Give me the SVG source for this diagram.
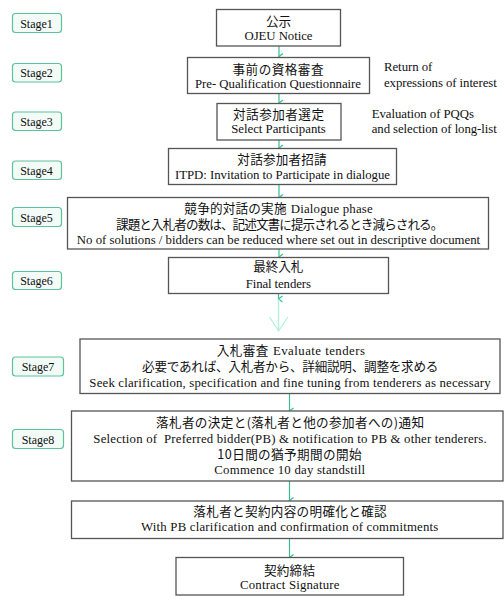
<svg xmlns="http://www.w3.org/2000/svg" width="504" height="596" viewBox="0 0 504 596">
<defs>
<style>
.box{fill:#fff;stroke:#555;stroke-width:1.3}
.stg{fill:#f2fbf7;stroke:#5cc39a;stroke-width:1.2}
.en{font-family:"Liberation Serif","Times New Roman",serif;font-size:12.8px;fill:#111}
.sl{font-family:"Liberation Serif","Times New Roman",serif;font-size:12px;fill:#111}
.jp{font-family:"Noto Sans CJK JP","Noto Sans CJK SC",sans-serif;font-size:12.6px;fill:#111}
.c{text-anchor:middle}
.con{stroke:#3cbf8f;stroke-width:1.2;fill:none}
</style>
<marker id="ah" markerWidth="8" markerHeight="8" refX="4" refY="6" orient="auto-start-reverse" markerUnits="userSpaceOnUse" viewBox="0 0 8 8">
<path d="M1,2 L4,6 L7,2" fill="none" stroke="#3cbf8f" stroke-width="1.2"/>
</marker>
</defs>
<rect width="504" height="596" fill="#fff"/>

<g id="stages">
<g id="stage1"><rect class="stg" x="12.5" y="13.5" width="49" height="19" rx="3"/><text class="sl c" x="36.5" y="27.5">Stage1</text></g>
<g id="stage2"><rect class="stg" x="12.5" y="63.5" width="49" height="18.5" rx="3"/><text class="sl c" x="36.5" y="77">Stage2</text></g>
<g id="stage3"><rect class="stg" x="12.5" y="112" width="49" height="18.5" rx="3"/><text class="sl c" x="36.5" y="125.5">Stage3</text></g>
<g id="stage4"><rect class="stg" x="12.5" y="161" width="49" height="18.5" rx="3"/><text class="sl c" x="36.5" y="174.5">Stage4</text></g>
<g id="stage5"><rect class="stg" x="12.5" y="207.5" width="49" height="19" rx="3"/><text class="sl c" x="36.5" y="221.5">Stage5</text></g>
<g id="stage6"><rect class="stg" x="12.5" y="271.5" width="49" height="18" rx="3"/><text class="sl c" x="36.5" y="285">Stage6</text></g>
<g id="stage7"><rect class="stg" x="12.5" y="357" width="51" height="19" rx="3"/><text class="sl c" x="38" y="371">Stage7</text></g>
<g id="stage8"><rect class="stg" x="12.5" y="429.5" width="51" height="19" rx="3"/><text class="sl c" x="38" y="443.5">Stage8</text></g>
</g>

<g id="connectors">
<line class="con" x1="279" y1="46" x2="279" y2="56.5" marker-end="url(#ah)"/>
<line class="con" x1="279" y1="93.5" x2="279" y2="103" marker-end="url(#ah)"/>
<line class="con" x1="279" y1="140" x2="279" y2="148" marker-end="url(#ah)"/>
<line class="con" x1="279" y1="184.5" x2="279" y2="197.5" marker-end="url(#ah)"/>
<line class="con" x1="279" y1="249" x2="279" y2="257" marker-end="url(#ah)"/>
<line class="con" x1="278.5" y1="293.5" x2="278.5" y2="299" marker-end="url(#ah)"/>
<line x1="278.5" y1="299" x2="278.5" y2="331" stroke="#b5f0da" stroke-width="1.5"/>
<path d="M269.5,317 L278.5,331 L288,317" fill="none" stroke="#b5f0da" stroke-width="1.2"/>
<line class="con" x1="289.5" y1="393.5" x2="289.5" y2="411" marker-end="url(#ah)"/>
<line class="con" x1="289.5" y1="481" x2="289.5" y2="500.5" marker-end="url(#ah)"/>
<line class="con" x1="289.5" y1="538.5" x2="289.5" y2="557.5" marker-end="url(#ah)"/>
</g>

<g id="n1"><rect class="box" x="216.5" y="9.5" width="124" height="36.5"/>
<text class="jp c" x="278.5" y="26">公示</text>
<text class="en c" x="278.5" y="40" textLength="68">OJEU Notice</text></g>

<g id="n2"><rect class="box" x="187.5" y="57.5" width="182" height="36"/>
<text class="jp c" x="278" y="73.5" textLength="91">事前の資格審査</text>
<text class="en c" x="278" y="87.5" textLength="166">Pre- Qualification Questionnaire</text></g>

<g id="n3"><rect class="box" x="217" y="103.5" width="124" height="36.5"/>
<text class="jp c" x="278.5" y="118.5" textLength="91">対話参加者選定</text>
<text class="en c" x="278.5" y="132.5" textLength="94.7">Select Participants</text></g>

<g id="n4"><rect class="box" x="168.5" y="148.5" width="228" height="36"/>
<text class="jp c" x="282" y="164" textLength="89.3">対話参加者招請</text>
<text class="en c" x="282.5" y="178.5" textLength="215">ITPD: Invitation to Participate in dialogue</text></g>

<g id="n5"><rect class="box" x="67.5" y="197.5" width="421" height="51.5"/>
<text class="c" x="278.5" y="213" textLength="188.3"><tspan class="jp">競争的対話の実施</tspan><tspan class="en" dx="4">Dialogue phase</tspan></text>
<text class="jp c" x="279.7" y="228.5" textLength="327.3">課題と入札者の数は、記述文書に提示されるとき減らされる。</text>
<text class="en c" x="278.5" y="243.5" textLength="403.3">No of solutions / bidders can be reduced where set out in descriptive document</text></g>

<g id="n6"><rect class="box" x="168.5" y="257.5" width="220" height="36"/>
<text class="jp c" x="278.3" y="271" textLength="50">最終入札</text>
<text class="en c" x="278.3" y="287.5" textLength="65.3">Final tenders</text></g>

<g id="n7"><rect class="box" x="80" y="339" width="420" height="54.5"/>
<text class="c" x="290.8" y="354.5" textLength="148.3"><tspan class="jp">入札審査</tspan><tspan class="en" dx="4">Evaluate tenders</tspan></text>
<text class="jp c" x="290.2" y="371" textLength="296.3">必要であれば、入札者から、詳細説明、調整を求める</text>
<text class="en c" x="290" y="386.5" textLength="401.3">Seek clarification, specification and fine tuning from tenderers as necessary</text></g>

<g id="n8"><rect class="box" x="71.5" y="411" width="431.5" height="70"/>
<text class="jp c" x="290" y="426.5" textLength="268">落札者の決定と(落札者と他の参加者への)通知</text>
<text class="en c" x="290" y="442.5" textLength="393.3" xml:space="preserve">Selection of  Preferred bidder(PB) &amp; notification to PB &amp; other tenderers.</text>
<text class="jp c" x="289.5" y="458.5" textLength="144.3">10日間の猶予期間の開始</text>
<text class="en c" x="289.7" y="474" textLength="150.7">Commence 10 day standstill</text></g>

<g id="n9"><rect class="box" x="71.5" y="501" width="431.5" height="37.5"/>
<text class="jp c" x="290" y="516" textLength="193.3">落札者と契約内容の明確化と確認</text>
<text class="en c" x="289.7" y="531" textLength="297.3">With PB clarification and confirmation of commitments</text></g>

<g id="n10"><rect class="box" x="176" y="557.5" width="227.5" height="37.5"/>
<text class="jp c" x="289.5" y="574.5" textLength="51">契約締結</text>
<text class="en c" x="289.7" y="588.5" textLength="99.3">Contract Signature</text></g>

<g id="notes">
<text class="en" x="384" y="71" textLength="48.3">Return of</text>
<text class="en" x="384" y="87" textLength="112.7">expressions of interest</text>
<text class="en" x="371.7" y="117.5" textLength="102.3">Evaluation of PQQs</text>
<text class="en" x="371.7" y="132.5" textLength="125">and selection of long-list</text>
</g>
</svg>
